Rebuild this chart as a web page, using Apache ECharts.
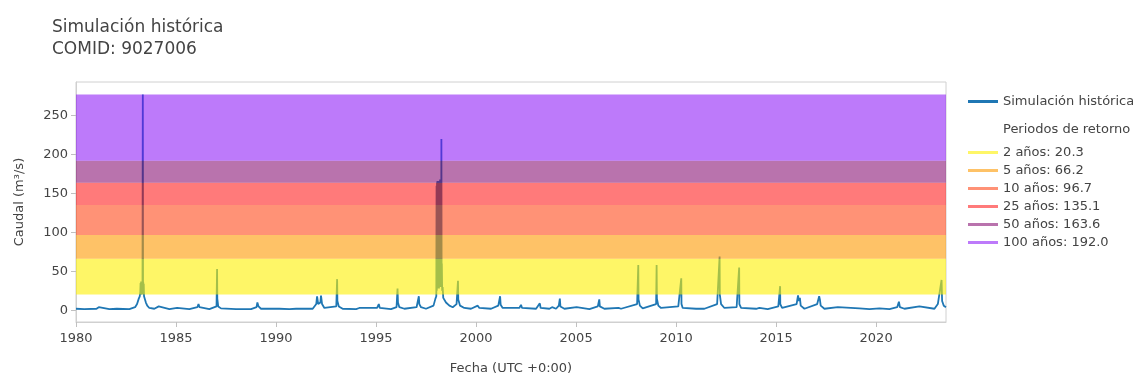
<!DOCTYPE html>
<html>
<head>
<meta charset="utf-8">
<script src="https://cdn.jsdelivr.net/npm/echarts@6/dist/echarts.min.js"></script>
<style>
html,body{margin:0;padding:0;background:#fff;}
#chart{width:1133px;height:380px;}
</style>
</head>
<body>
<div id="chart"></div>
<script>
// ---- data ----
const titleLines = ['Simulación histórica', 'COMID: 9027006'];
const seriesName = 'Simulación histórica';
const dates = [
 '1980-01-01','1980-06-01','1981-01-10','1981-02-20','1981-03-20','1981-09-01','1982-01-15','1982-09-01','1982-12-15',
 '1983-01-20','1983-02-20','1983-03-10','1983-03-20','1983-03-25','1983-03-30','1983-04-04','1983-04-09','1983-04-14','1983-04-19','1983-04-24','1983-04-29','1983-05-05','1983-05-09','1983-05-13','1983-05-17','1983-05-22','1983-05-27','1983-06-10','1983-06-30','1983-07-25','1983-09-01','1983-12-01',
 '1984-02-20','1984-03-10','1984-09-01','1985-01-20','1985-02-10','1985-09-01',
 '1986-01-25','1986-02-15','1986-03-05','1986-09-01',
 '1987-01-10','1987-01-20','1987-01-24','1987-02-10','1987-04-01','1988-01-01','1988-10-01',
 '1989-01-10','1989-01-25','1989-02-15','1989-04-01','1990-03-01','1990-09-01',
 '1991-01-01','1991-01-20','1991-03-01','1991-11-01',
 '1992-01-05','1992-01-20','1992-02-10','1992-03-20','1992-04-01','1992-04-20','1992-06-01',
 '1993-01-05','1993-01-20','1993-01-25','1993-02-20','1993-05-01',
 '1994-01-01','1994-03-01','1994-04-01','1995-01-20','1995-02-20','1995-03-10','1995-10-01',
 '1996-01-10','1996-01-28','1996-02-05','1996-03-01','1996-06-01',
 '1997-01-10','1997-02-20','1997-03-01','1997-04-01','1997-07-01','1997-11-15','1997-12-20',
 '1998-01-05','1998-01-10','1998-01-14','1998-01-18','1998-01-22','1998-01-26','1998-01-30','1998-02-03','1998-02-07','1998-02-11','1998-02-15','1998-02-19','1998-02-23','1998-02-27','1998-03-03','1998-03-07','1998-03-11','1998-03-15','1998-03-19','1998-03-23','1998-03-27','1998-03-31','1998-04-04','1998-04-08','1998-04-12','1998-04-16','1998-04-22','1998-05-01','1998-05-12','1998-07-01','1998-09-01','1998-11-01',
 '1999-01-10','1999-02-05','1999-02-10','1999-03-15','1999-06-01','1999-10-01',
 '2000-02-01','2000-03-01','2000-10-01',
 '2001-02-10','2001-03-15','2001-03-25','2001-05-01',
 '2002-03-01','2002-04-01','2002-04-20','2003-01-01','2003-03-10','2003-03-25','2003-09-01','2003-10-20',
 '2004-01-01','2004-02-20','2004-03-10','2004-03-20','2004-06-01',
 '2005-01-10','2005-01-25','2005-09-01',
 '2006-02-01','2006-02-28','2006-03-10','2006-06-01',
 '2007-02-15','2007-03-10','2007-04-01',
 '2008-01-20','2008-02-10','2008-02-15','2008-03-10','2008-05-01',
 '2009-01-01','2009-01-10','2009-01-15','2009-02-10','2009-04-01',
 '2010-02-10','2010-04-05','2010-04-09','2010-05-01',
 '2011-01-01','2011-06-01',
 '2012-01-20','2012-03-05','2012-03-09','2012-04-01','2012-06-01',
 '2013-01-10','2013-02-25','2013-03-01','2013-04-01',
 '2014-01-01','2014-03-01','2014-08-01',
 '2015-02-10','2015-03-15','2015-03-18','2015-04-20',
 '2016-01-10','2016-02-05','2016-02-20','2016-03-10','2016-03-25','2016-06-01',
 '2017-01-20','2017-02-25','2017-03-10','2017-03-25','2017-06-01',
 '2018-02-01','2018-03-01','2019-03-01','2019-09-01','2020-03-01','2020-09-01',
 '2021-01-20','2021-02-20','2021-03-10','2021-06-01',
 '2022-03-01','2022-03-20','2022-12-01',
 '2023-02-01','2023-04-10','2023-04-20','2023-05-20','2023-06-30'
];
const flows = [
 2,1.5,2,4,2,1.5,2,1.5,4,
 8,15,18,24,35,20,37,22,36,21,37,24,277,30,36,20,34,18,16,10,6,3,2,
 5,3,1.5,3,2,1.5,
 4,8,4,1.5,
 5,53,15,5,2.5,1.5,1.5,
 4,10,5,2,2,1.5,
 2,3.5,2,2,
 8,18,8,10,19,8,3,
 5,40,12,5,2,
 1.5,3,1.5,3,8,3,1.5,
 4,28,10,4,2,
 4,18,8,4,2,6,15,
 18,160,25,164,30,166,28,162,35,165,30,163,28,166,32,160,30,168,35,164,30,166,40,220,35,60,25,30,16,10,6,4,
 8,38,14,6,3,2,
 6,3,2,
 6,18,7,3,
 3,7,3,2,9,3,2,4,
 2,6,15,5,2,
 4,3,1.5,
 5,14,5,2,
 3,5,2,
 8,58,14,6,2.5,
 8,58,15,6,3,
 5,41,8,3,
 2,2,
 8,69,20,8,3,
 4,55,8,3,
 2,3,1.5,
 5,31,8,3,
 8,19,12,16,6,2,
 8,18,14,6,2,
 4,2,2.5,1.5,2.5,1.5,
 4,11,4,2,
 5,2.5,2,
 8,39,12,6,4
];
const rpNames = ['2 años: 20.3','5 años: 66.2','10 años: 96.7','25 años: 135.1','50 años: 163.6','100 años: 192.0'];
const rpValues = [20.3, 66.2, 96.7, 135.1, 163.6, 192.0];
const rpColors = ['rgba(254,240,1,0.6)','rgba(253,154,1,0.6)','rgba(255,56,5,0.55)','rgba(255,0,0,0.52)','rgba(128,0,106,0.55)','rgba(128,0,246,0.52)'];
const legendHeader = 'Periodos de retorno';
const xTickYears = [1980,1985,1990,1995,2000,2005,2010,2015,2020];
const yTicks = [0,50,100,150,200,250];
const xTitle = 'Fecha (UTC +0:00)';
const yTitle = 'Caudal (m³/s)';

// ---- chart ----
const FONT = 'DejaVu Sans';
const TXT = '#444';
const simData = dates.map((d, i) => [Date.parse(d + 'T00:00:00Z'), flows[i]]);
const maxFlow = Math.max(...flows);
const bandTops = rpValues.slice(1).concat([maxFlow]);
const xTickVals = xTickYears.map(y => Date.UTC(y, 0, 1));

const series = [{
  name: seriesName,
  type: 'line',
  data: simData,
  symbol: 'none',
  z: 2,
  color: '#1f77b4',
  lineStyle: { color: '#1f77b4', width: 1.8 },
  itemStyle: { color: '#1f77b4' }
}];
rpNames.forEach((n, i) => {
  series.push({
    name: n,
    type: 'line',
    data: [],
    symbol: 'none',
    z: 3,
    color: rpColors[i],
    lineStyle: { color: rpColors[i], width: 3 },
    itemStyle: { color: rpColors[i] },
    markArea: {
      silent: true,
      z: 5,
      itemStyle: { color: rpColors[i] },
      data: [[{ yAxis: rpValues[i] }, { yAxis: bandTops[i] }]]
    }
  });
});

const legendText = { fontFamily: FONT, fontSize: 13, color: TXT };
const chart = echarts.init(document.getElementById('chart'), null, { renderer: 'canvas' });
chart.setOption({
  animation: false,
  backgroundColor: '#fff',
  title: {
    text: titleLines.join('\n'),
    left: 47, top: 12,
    textStyle: { fontFamily: FONT, fontSize: 17, fontWeight: 'normal', color: TXT, lineHeight: 22 }
  },
  legend: [{
    data: [seriesName],
    orient: 'vertical', left: 963, top: 90,
    icon: 'rect', itemWidth: 30, itemHeight: 3,
    textStyle: legendText
  }, {
    data: rpNames,
    orient: 'vertical', left: 963, top: 141,
    icon: 'rect', itemWidth: 30, itemHeight: 3, itemGap: 5,
    textStyle: legendText
  }],
  graphic: [{
    type: 'text', left: 1003, top: 123,
    style: { text: legendHeader, fontFamily: FONT, fontSize: 13, fill: TXT }
  }],
  grid: { left: 76, right: 187, top: 82, bottom: 58, show: true, borderColor: '#d0d0d0', borderWidth: 1, backgroundColor: 'transparent' },
  xAxis: {
    type: 'value',
    min: Date.UTC(1980, 0, 1), max: Date.UTC(2023, 5, 30),
    name: xTitle, nameLocation: 'middle', nameGap: 40,
    nameTextStyle: { fontFamily: FONT, fontSize: 13, color: TXT },
    axisLine: { show: true, onZero: false, lineStyle: { color: '#d0d0d0' } },
    axisTick: { show: true, length: 5, lineStyle: { color: '#c0c0c0' }, customValues: xTickVals },
    axisLabel: { fontFamily: FONT, fontSize: 13, color: TXT, margin: 10, customValues: xTickVals,
      formatter: v => String(new Date(v).getUTCFullYear()) },
    splitLine: { show: false }
  },
  yAxis: {
    type: 'value',
    min: -15, max: 293,
    name: yTitle, nameLocation: 'middle', nameGap: 50,
    nameTextStyle: { fontFamily: FONT, fontSize: 13, color: TXT },
    axisLine: { show: true, lineStyle: { color: '#d0d0d0' } },
    axisTick: { show: true, length: 5, lineStyle: { color: '#c0c0c0' }, customValues: yTicks },
    axisLabel: { fontFamily: FONT, fontSize: 13, color: TXT, margin: 8, customValues: yTicks },
    splitLine: { show: false }
  },
  series: series
});
</script>
</body>
</html>
